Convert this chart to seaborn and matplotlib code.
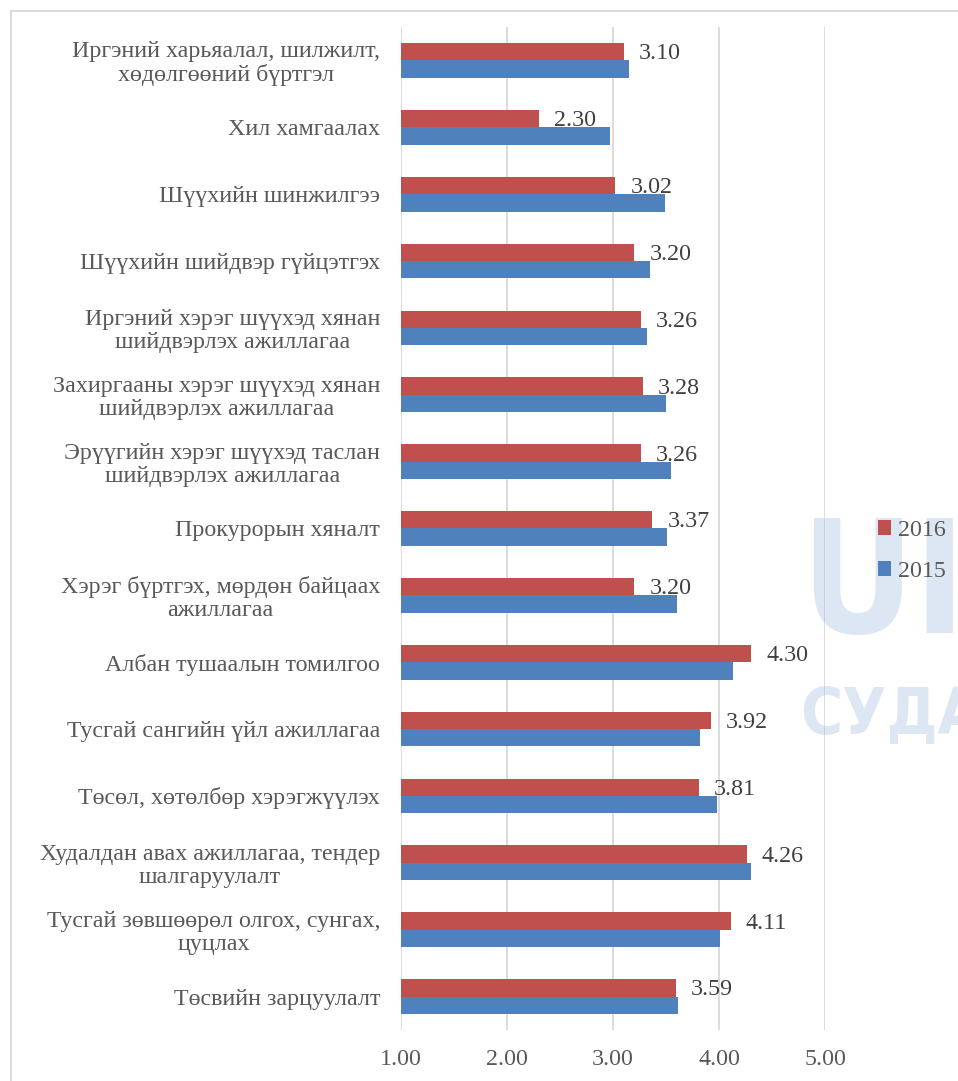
import pandas as pd
import matplotlib.pyplot as plt
from matplotlib.patches import Rectangle
import seaborn as sns

categories = [
    "Иргэний харьяалал, шилжилт,\nхөдөлгөөний бүртгэл",
    "Хил хамгаалах",
    "Шүүхийн шинжилгээ",
    "Шүүхийн шийдвэр гүйцэтгэх",
    "Иргэний хэрэг шүүхэд хянан\nшийдвэрлэх ажиллагаа",
    "Захиргааны хэрэг шүүхэд хянан\nшийдвэрлэх ажиллагаа",
    "Эрүүгийн хэрэг шүүхэд таслан\nшийдвэрлэх ажиллагаа",
    "Прокурорын хяналт",
    "Хэрэг бүртгэх, мөрдөн байцаах\nажиллагаа",
    "Албан тушаалын томилгоо",
    "Тусгай сангийн үйл ажиллагаа",
    "Төсөл, хөтөлбөр хэрэгжүүлэх",
    "Худалдан авах ажиллагаа, тендер\nшалгаруулалт",
    "Тусгай зөвшөөрөл олгох, сунгах,\nцуцлах",
    "Төсвийн зарцуулалт",
]
values_2016 = [3.10, 2.30, 3.02, 3.20, 3.26, 3.28, 3.26, 3.37, 3.20, 4.30, 3.92, 3.81, 4.26, 4.11, 3.59]
values_2015 = [3.15, 2.97, 3.49, 3.35, 3.32, 3.50, 3.55, 3.51, 3.60, 4.13, 3.82, 3.98, 4.30, 4.01, 3.61]
years = ["2016", "2015"]
x_ticks = [1, 2, 3, 4, 5]

df = pd.DataFrame({
    "category": categories * 2,
    "year": ["2016"] * len(categories) + ["2015"] * len(categories),
    "value": values_2016 + values_2015,
})

sns.set_theme(style="white")
plt.rcParams["font.family"] = ["Liberation Serif", "DejaVu Serif"]
text_gray = "#595959"
fs = 17.3

fig = plt.figure(figsize=(9.58, 10.81), dpi=100)
ax = fig.add_axes([401 / 958, 1 - 1030 / 1081, 424 / 958, 1003 / 1081])

sns.barplot(data=df, y="category", x="value", hue="year", hue_order=years,
            palette={"2016": "#C0504D", "2015": "#4F81BD"}, orient="h",
            width=0.52, order=categories, ax=ax, saturation=1,
            edgecolor="none", legend=True)

ax.set_xlim(1, 5)
ax.set_xticks(x_ticks)
ax.set_xticklabels([f"{t:.2f}" for t in x_ticks], fontsize=fs, color=text_gray)
ax.tick_params(axis="x", length=0, pad=14)
ax.tick_params(axis="y", length=0, pad=15, labelsize=fs, labelcolor=text_gray)
for lbl in ax.get_yticklabels():
    lbl.set_multialignment("center")
    lbl.set_linespacing(1.1)
ax.set_xlabel("")
ax.set_ylabel("")
ax.grid(axis="x", color="#d9d9d9", linewidth=1.3)
ax.set_axisbelow(True)
for s in ax.spines.values():
    s.set_visible(False)

# data labels only on 2016 bars
texts = ax.bar_label(ax.containers[0], fmt="%.2f", padding=11, fontsize=fs, color="#404040")
for t in texts:
    t.xyann = (11, -1.5)

# legend outside the plot on the right
handles, labels = ax.get_legend_handles_labels()
ax.legend_.remove()
fig.legend(handles, labels, loc="center left", bbox_to_anchor=(856 / 958, 1 - 551 / 1081),
           frameon=False, fontsize=fs, handlelength=0.55, handleheight=0.55,
           handletextpad=0.3, labelspacing=0.85, labelcolor=text_gray)

# watermark
fig.text(800 / 958, 1 - 590 / 1081, "UII", fontsize=112, fontweight="bold",
         family="DejaVu Sans", fontstretch="condensed", color="#9fbbe0",
         alpha=0.35, va="center", ha="left", zorder=0)
fig.text(800 / 958, 1 - 716 / 1081, "СУДАЛ", fontsize=46, fontweight="bold",
         family="DejaVu Sans", fontstretch="condensed", color="#9fbbe0",
         alpha=0.35, va="center", ha="left", zorder=0)

# chart frame
fig.patches.append(Rectangle((11 / 958, -0.1), 1.2, 1.1 - 11 / 1081,
                             transform=fig.transFigure, fill=False,
                             edgecolor="#d9d9d9", linewidth=1.3))

fig.savefig("out.png", dpi=100)
